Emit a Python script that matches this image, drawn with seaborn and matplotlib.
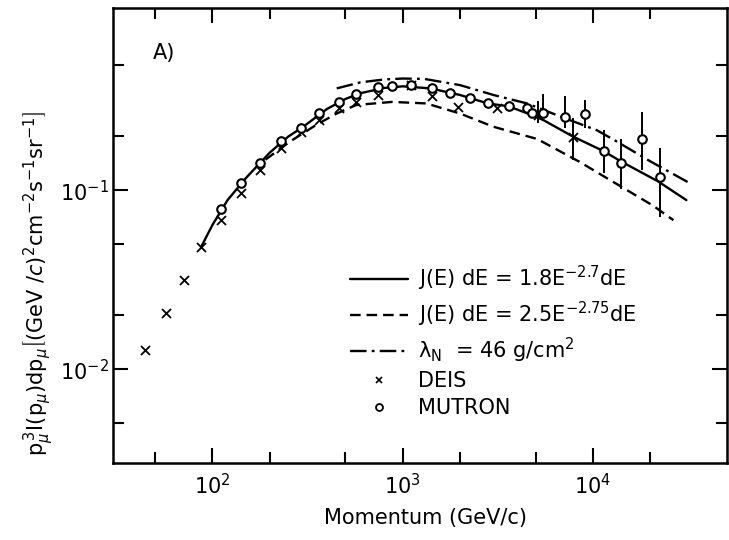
import matplotlib
matplotlib.use('Agg')
import matplotlib.pyplot as plt
import seaborn as sns
from matplotlib.lines import Line2D
from matplotlib.ticker import FixedLocator, LogFormatterSciNotation, NullFormatter

sns.set_style('ticks')
plt.rcParams['font.family'] = ['DejaVu Sans']
plt.rcParams['mathtext.fontset'] = 'dejavusans'
plt.rcParams['text.color'] = 'black'
plt.rcParams['axes.labelcolor'] = 'black'

# model curves (momentum in GeV/c, p^3 I(p) dp)
solid_p = [87, 100, 120, 150, 200, 250, 300, 400, 500, 600, 800, 1000, 1400,
           2000, 2800, 3600, 4800, 5500, 7800, 11400, 14000, 22000, 31000]
solid_v = [0.048, 0.064, 0.088, 0.117, 0.162, 0.199, 0.226, 0.284, 0.323, 0.348,
           0.372, 0.380, 0.370, 0.340, 0.305, 0.294, 0.262, 0.246, 0.200, 0.165,
           0.145, 0.112, 0.088]

dashed_p = [190, 254, 350, 450, 570, 880, 1330, 2000, 3000, 5100, 8500, 14000,
            20700, 26500]
dashed_v = [0.148, 0.186, 0.231, 0.268, 0.299, 0.311, 0.305, 0.268, 0.226, 0.193,
            0.144, 0.105, 0.082, 0.068]

dashdot_p = [450, 600, 800, 1000, 1300, 2000, 3000, 4500, 7200, 10500, 13000,
             20000, 32000]
dashdot_v = [0.370, 0.400, 0.415, 0.420, 0.418, 0.386, 0.340, 0.305, 0.251, 0.216,
             0.190, 0.145, 0.110]

# DEIS measurements
deis_p = [44, 57, 70.6, 87, 111, 141, 177, 230, 293, 363, 462, 570, 741, 1111,
          1432, 1954, 3135, 5160, 7820]
deis_v = [0.0128, 0.0205, 0.0314, 0.048, 0.0686, 0.096, 0.129, 0.173, 0.212,
          0.248, 0.286, 0.311, 0.340, 0.386, 0.335, 0.292, 0.288, 0.262, 0.197]
deis_err_p = [5160, 7820]
deis_err_lo = [0.237, 0.147]
deis_err_hi = [0.316, 0.252]

# MUTRON measurements
mut_p = [111, 142, 177, 230, 293, 363, 462, 570, 741, 879, 1111, 1432, 1766,
         2254, 2813, 3630, 4520, 4760, 5470, 7130, 9080, 11430, 14000, 18200, 22540]
mut_v = [0.079, 0.109, 0.142, 0.189, 0.223, 0.268, 0.311, 0.343, 0.375, 0.381,
         0.386, 0.370, 0.350, 0.328, 0.305, 0.296, 0.286, 0.270, 0.270, 0.257,
         0.266, 0.166, 0.142, 0.194, 0.118]
mut_err_p = [5470, 7130, 9080, 11430, 14000, 18200, 22540]
mut_err_lo = [0.252, 0.223, 0.221, 0.124, 0.102, 0.129, 0.071]
mut_err_hi = [0.343, 0.335, 0.318, 0.216, 0.193, 0.274, 0.171]

fig = plt.figure(figsize=(7.29, 5.40), dpi=100)
ax = fig.add_axes([0.155, 0.1426, 0.8423, 0.8426])
ax.set(xscale='log', yscale='log')

dash_style = (0, (4.5, 2.5))
dashdot_style = (0, (7, 2.2, 1.2, 2.2))

sns.lineplot(x=solid_p, y=solid_v, ax=ax, color='black', lw=1.7,
             estimator=None, sort=False)
sns.lineplot(x=dashed_p, y=dashed_v, ax=ax, color='black', lw=1.7,
             linestyle=dash_style, estimator=None, sort=False)
sns.lineplot(x=dashdot_p, y=dashdot_v, ax=ax, color='black', lw=1.7,
             linestyle=dashdot_style, estimator=None, sort=False)

ax.vlines(deis_err_p, deis_err_lo, deis_err_hi, color='black', lw=1.4)
ax.vlines(mut_err_p, mut_err_lo, mut_err_hi, color='black', lw=1.4)

sns.scatterplot(x=deis_p, y=deis_v, ax=ax, marker='x', color='black', s=42,
                linewidth=1.3, zorder=4)
sns.scatterplot(x=mut_p, y=mut_v, ax=ax, marker='o', color='white',
                edgecolor='black', s=38, linewidth=1.5, zorder=5)

ax.set_xlim(30, 50700)
ax.set_ylim(0.003, 1.04)

ax.xaxis.set_major_locator(FixedLocator([1e2, 1e3, 1e4]))
ax.xaxis.set_minor_locator(FixedLocator([50, 200, 500, 2000, 5000, 20000]))
ax.yaxis.set_major_locator(FixedLocator([1e-2, 1e-1]))
ax.yaxis.set_minor_locator(FixedLocator([0.005, 0.02, 0.05, 0.2, 0.5]))
ax.xaxis.set_major_formatter(LogFormatterSciNotation())
ax.yaxis.set_major_formatter(LogFormatterSciNotation())
ax.xaxis.set_minor_formatter(NullFormatter())
ax.yaxis.set_minor_formatter(NullFormatter())

ax.tick_params(which='both', direction='in', top=True, right=True, width=1.5,
               labelsize=15, colors='black')
ax.tick_params(which='major', length=11)
ax.tick_params(which='minor', length=8)
ax.tick_params(axis='x', which='major', pad=7)
ax.tick_params(axis='y', which='major', pad=3)
for s in ax.spines.values():
    s.set_linewidth(1.8)
    s.set_color('black')

ax.set_xlabel('Momentum (GeV/c)', fontsize=15)
ax.xaxis.set_label_coords(0.509, -0.10)
ax.set_ylabel(r'p$_\mu^{\,3}$I(p$_\mu$)dp$_\mu$$\left[(\mathrm{GeV}\ /c)^2\mathrm{cm}^{-2}\mathrm{s}^{-1}\mathrm{sr}^{-1}\right]$',
              fontsize=15)
ax.yaxis.set_label_coords(-0.095, 0.395)

ax.text(0.065, 0.90, 'A)', transform=ax.transAxes, fontsize=15, va='center')

handles = [
    Line2D([], [], color='black', lw=1.7),
    Line2D([], [], color='black', lw=1.7, linestyle=dash_style),
    Line2D([], [], color='black', lw=1.7, linestyle=dashdot_style),
    Line2D([], [], color='black', lw=0, marker='x', markersize=5, mew=1.2),
    Line2D([], [], color='black', lw=0, marker='o', markersize=5, mfc='white', mew=1.3),
]
labels = [
    'J(E) dE = 1.8E$^{-2.7}$dE',
    'J(E) dE = 2.5E$^{-2.75}$dE',
    'λ$_{\\mathrm{N}}$  = 46 g/cm$^2$',
    'DEIS',
    'MUTRON',
]
ax.legend(handles, labels, loc='upper left', bbox_to_anchor=(0.386, 0.438),
          frameon=False, fontsize=15, handlelength=2.8, handletextpad=0.45,
          labelspacing=0.32, borderpad=0, borderaxespad=0, labelcolor='black')

fig.savefig('out.png', dpi=100)
